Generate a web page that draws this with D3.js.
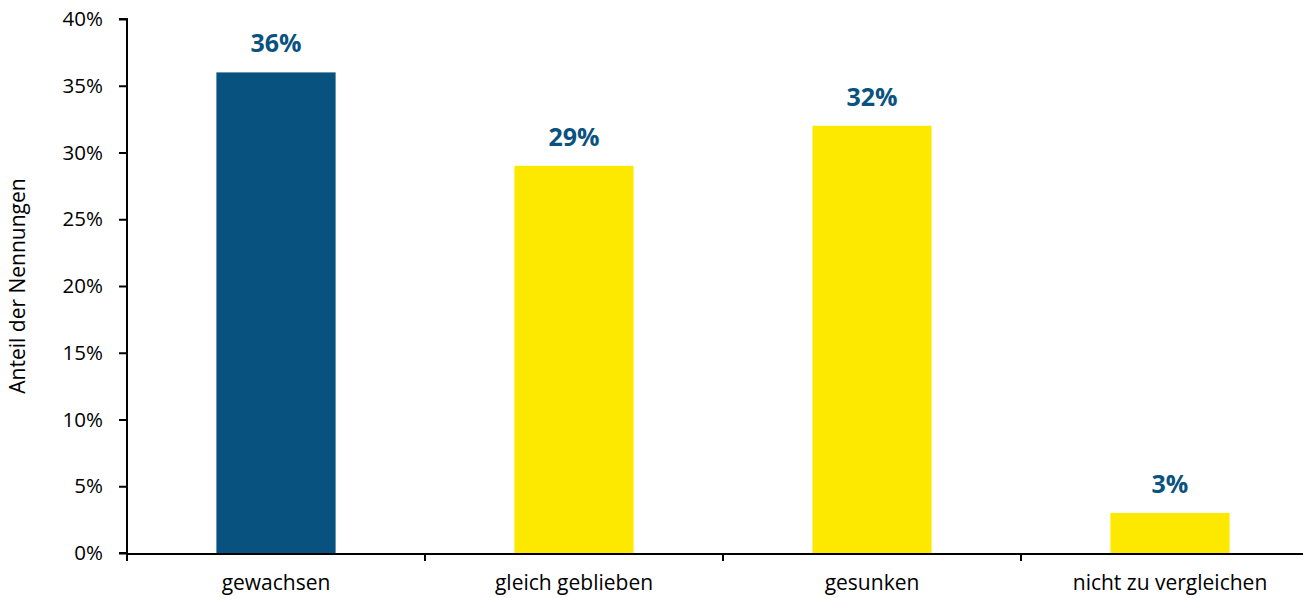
<!DOCTYPE html>
<html><head><meta charset="utf-8">
<script src="https://cdn.jsdelivr.net/npm/d3@7"></script>
<style>body{margin:0;background:#fff;} svg{display:block;font-family:"Open Sans";}</style>
</head><body><svg id="c" width="1303" height="598"></svg>
<script>
const categories = ["gewachsen","gleich geblieben","gesunken","nicht zu vergleichen"];
const values = [0.36,0.29,0.32,0.03];
const labels = ["36%","29%","32%","3%"];
const barColors = ["#08527f","#fde900","#fde900","#fde900"];
const yTicks = [0,0.05,0.10,0.15,0.20,0.25,0.30,0.35,0.40];

const svg = d3.select("#c");
const x = d3.scaleBand().domain(categories).range([127,1319]).padding(0);
const y = d3.scaleLinear().domain([0,0.4]).range([553,19]);
const bw = x.bandwidth()*0.4;

svg.selectAll("rect.bar").data(values).enter().append("rect")
  .attr("x",(d,i)=>x(categories[i])+x.bandwidth()/2-bw/2)
  .attr("y",d=>y(d)).attr("width",bw).attr("height",d=>y(0)-y(d))
  .attr("fill",(d,i)=>barColors[i]);

svg.selectAll("text.val").data(values).enter().append("text")
  .attr("x",(d,i)=>x(categories[i])+x.bandwidth()/2)
  .attr("y",d=>y(d)-20).attr("text-anchor","middle")
  .attr("font-size",25).attr("font-weight","bold").attr("fill","#0a5280")
  .text((d,i)=>labels[i]);

const yAxis = svg.append("g").attr("transform","translate(127,0)")
  .call(d3.axisLeft(y).tickValues(yTicks).tickFormat(d3.format(".0%")).tickSize(8).tickPadding(16));
yAxis.attr("font-family",null).attr("font-size",null);
yAxis.select(".domain").attr("stroke","#000").attr("stroke-width",2).attr("d","M-8,19H0V553H-8");
yAxis.selectAll(".tick line").attr("stroke","#000").attr("stroke-width",2);
yAxis.selectAll(".tick text").attr("font-size",20.5).attr("fill","#000");

const xAxis = svg.append("g").attr("transform","translate(0,554)")
  .call(d3.axisBottom(x).tickSize(0).tickPadding(22));
xAxis.attr("font-family",null).attr("font-size",null);
xAxis.select(".domain").attr("stroke","#000").attr("stroke-width",2).attr("d","M127,0H1319");
xAxis.selectAll(".tick text").attr("font-size",21).attr("fill","#000").attr("dy",null).attr("y",36);
const bounds = categories.map(c=>x(c)).concat([x.range()[1]]);
svg.append("g").selectAll("line").data(bounds).enter().append("line")
  .attr("x1",d=>d).attr("x2",d=>d).attr("y1",554).attr("y2",561)
  .attr("stroke","#000").attr("stroke-width",2);

svg.append("text").attr("transform","translate(25,286) rotate(-90)")
  .attr("text-anchor","middle").attr("font-size",21).attr("fill","#000")
  .text("Anteil der Nennungen");
</script></body></html>
